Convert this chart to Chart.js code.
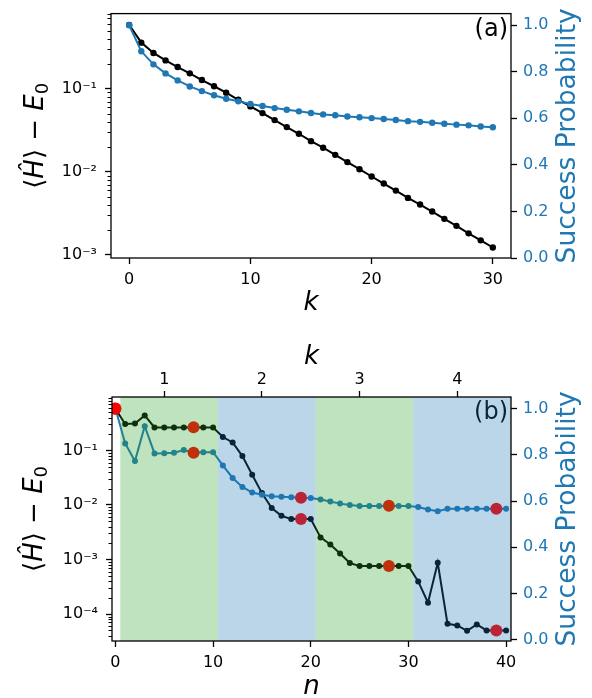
<!DOCTYPE html>
<html><head><meta charset="utf-8">
<script src="https://cdn.jsdelivr.net/npm/chart.js@4"></script>
<style>
html,body{margin:0;padding:0;background:#fff;}
#wrap{position:relative;width:592px;height:698px;overflow:hidden;}
canvas{position:absolute;left:0;}
</style></head><body>
<div id="wrap">
<canvas id="ca" width="592" height="334" style="top:-4px"></canvas>
<canvas id="cb" width="592" height="368" style="top:330px"></canvas>
</div>
<script>
// ---------- DATA ----------
const kSteps = [0,1,2,3,4,5,6,7,8,9,10,11,12,13,14,15,16,17,18,19,20,21,22,23,24,25,26,27,28,29,30];
const energyA = [0.585,0.358,0.269,0.219,0.182,0.153,0.127,0.107,0.0895,0.0736,0.0612,0.0509,0.0419,0.0345,0.0287,0.0234,0.0195,0.0160,0.0131,0.01076,0.00879,0.00723,0.00595,0.00486,0.00404,0.00333,0.00272,0.00224,0.00182,0.00150,0.00123];
const successA = [1.0,0.888,0.832,0.793,0.763,0.737,0.717,0.699,0.684,0.673,0.662,0.653,0.644,0.637,0.630,0.623,0.617,0.613,0.608,0.605,0.601,0.597,0.593,0.588,0.585,0.581,0.577,0.573,0.570,0.565,0.562];

const nSteps = [0,1,2,3,4,5,6,7,8,9,10,11,12,13,14,15,16,17,18,19,20,21,22,23,24,25,26,27,28,29,30,31,32,33,34,35,36,37,38,39,40];
const energyB = [0.582,0.305,0.313,0.439,0.264,0.264,0.264,0.264,0.266,0.264,0.264,0.176,0.140,0.0788,0.0358,0.0165,0.00877,0.00634,0.00551,0.00551,0.00551,0.00254,0.00189,0.00129,0.000860,0.000757,0.000757,0.000757,0.000757,0.000757,0.000757,0.000396,0.000161,0.000872,0.0000662,0.0000617,0.0000493,0.0000644,0.0000501,0.0000501,0.0000501];
const successB = [1.0,0.849,0.773,0.924,0.806,0.807,0.809,0.821,0.809,0.811,0.811,0.754,0.700,0.661,0.637,0.627,0.621,0.619,0.617,0.614,0.613,0.607,0.598,0.589,0.583,0.579,0.579,0.579,0.580,0.579,0.579,0.574,0.564,0.556,0.567,0.567,0.567,0.567,0.567,0.567,0.567];
const markedN = [0,8,19,28,39];

const xTicksA = [0,10,20,30];
const xTicksB = [0,10,20,30,40];
const kTickPos = [5,15,25,35];
const kTickLabels = ['1','2','3','4'];
const logTicksA = [0.1,0.01,0.001];
const logTicksB = [0.1,0.01,0.001,0.0001];
const probTicks = [0,0.2,0.4,0.6,0.8,1.0];
const shadeEdges = [0.5,10.5,20.5,30.5,40.5];
const shadeKinds = ['green','blue','green','blue'];

// ---------- STYLE ----------
const FONT = '"DejaVu Sans", "Liberation Sans", sans-serif';
const BLUE = '#1f77b4';
const SHADE = {green:'rgba(44,160,44,0.3)', blue:'rgba(31,119,180,0.3)'};
const SUP = {'0':'⁰','1':'¹','2':'²','3':'³','4':'⁴','5':'⁵','6':'⁶','7':'⁷','8':'⁸','9':'⁹','-':'⁻'};
function logLabel(v){
  const e = Math.round(Math.log10(v));
  return '10' + String(e).split('').map(c=>SUP[c]).join('');
}
function setTicks(list){ return s => { s.ticks = list.filter(v=>v>=s.min-1e-12 && v<=s.max+1e-12).map(v=>({value:v})); }; }
function fixW(w){ return s => { s.width = w; }; }
function fixH(h){ return s => { s.height = h; }; }

function tickFont(){ return {family:FONT, size:16}; }
function gridOpts(color){ return {display:true, drawOnChartArea:false, drawTicks:true, tickLength:6, tickWidth:1.3, tickColor:color||'#000'}; }

function drawLeftTitle(ctx, cx, cy){
  const S = 26;
  const pieces = [
    {t:'⟨', f:`${S}px ${FONT}`, dy:0},
    {t:'Ĥ', f:`italic ${S}px ${FONT}`, dy:0},
    {t:'⟩', f:`${S}px ${FONT}`, dy:0},
    {t:' − ', f:`${S}px ${FONT}`, dy:0},
    {t:'E', f:`italic ${S}px ${FONT}`, dy:0},
    {t:'0', f:`${Math.round(S*0.7)}px ${FONT}`, dy:5}
  ];
  ctx.save();
  ctx.translate(cx, cy);
  ctx.rotate(-Math.PI/2);
  ctx.fillStyle = '#000';
  ctx.textBaseline = 'alphabetic';
  ctx.textAlign = 'left';
  let total = 0;
  pieces.forEach(p=>{ ctx.font = p.f; p.w = ctx.measureText(p.t).width; total += p.w; });
  let x = -total/2;
  pieces.forEach(p=>{ ctx.font = p.f; ctx.fillText(p.t, x, 9 + p.dy); x += p.w; });
  ctx.restore();
}
function drawRotText(ctx, text, cx, cy, font, color){
  ctx.save();
  ctx.translate(cx, cy);
  ctx.rotate(-Math.PI/2);
  ctx.font = font; ctx.fillStyle = color;
  ctx.textAlign = 'center'; ctx.textBaseline = 'middle';
  ctx.fillText(text, 0, 0);
  ctx.restore();
}
function drawText(ctx, text, x, y, font, color, align){
  ctx.save();
  ctx.font = font; ctx.fillStyle = color;
  ctx.textAlign = align||'center'; ctx.textBaseline = 'middle';
  ctx.fillText(text, x, y);
  ctx.restore();
}
function drawMinorLog(ctx, chart){
  const s = chart.scales.y; const a = chart.chartArea;
  ctx.save(); ctx.strokeStyle = '#000'; ctx.lineWidth = 1;
  for (let e = -6; e <= 1; e++){
    for (let m = 2; m <= 9; m++){
      const v = m*Math.pow(10,e);
      if (v < s.min || v > s.max) continue;
      const y = Math.round(s.getPixelForValue(v)) + 0.5;
      ctx.beginPath(); ctx.moveTo(a.left, y); ctx.lineTo(a.left-3.5, y); ctx.stroke();
    }
  }
  ctx.restore();
}
function drawFrame(ctx, chart){
  const a = chart.chartArea;
  ctx.save(); ctx.strokeStyle = '#000'; ctx.lineWidth = 1.3;
  ctx.strokeRect(a.left, a.top, a.right-a.left, a.bottom-a.top);
  ctx.restore();
}

// ---------- CHART (a) ----------
const decorA = {
  id:'decorA',
  afterDraw(chart){
    const ctx = chart.ctx, a = chart.chartArea;
    drawMinorLog(ctx, chart);
    drawFrame(ctx, chart);
    const cy = (a.top+a.bottom)/2;
    drawLeftTitle(ctx, 34, cy);
    drawRotText(ctx, 'Success Probability', 568, cy, `26.5px ${FONT}`, BLUE);
    drawText(ctx, 'k', (a.left+a.right)/2, 307, `italic 26px ${FONT}`, '#000');
    drawText(ctx, '(a)', a.right-3, a.top+16, `24px ${FONT}`, '#000', 'right');
  }
};

new Chart(document.getElementById('ca'), {
  type:'line',
  data:{ datasets:[
    { label:'Success', data:kSteps.map((k,i)=>({x:k,y:successA[i]})), yAxisID:'y2', xAxisID:'x',
      borderColor:BLUE, backgroundColor:BLUE, pointBackgroundColor:BLUE, pointBorderColor:BLUE,
      borderWidth:2, pointRadius:3.2, pointBorderWidth:0, order:0 },
    { label:'Energy', data:kSteps.map((k,i)=>({x:k,y:energyA[i]})), yAxisID:'y', xAxisID:'x',
      borderColor:'#000', backgroundColor:'#000', pointBackgroundColor:'#000', pointBorderColor:'#000',
      borderWidth:2, pointRadius:3.2, pointBorderWidth:0, order:1 }
  ]},
  options:{
    responsive:false, animation:false, devicePixelRatio:1,
    layout:{padding:{top:11,left:0,right:0,bottom:0}},
    plugins:{legend:{display:false}, tooltip:{enabled:false}},
    elements:{line:{tension:0}},
    scales:{
      x:{type:'linear', position:'bottom', min:-1.5, max:31.5,
         afterBuildTicks:setTicks(xTicksA), afterFit:fixH(72),
         grid:gridOpts(), border:{display:false},
         ticks:{font:tickFont(), color:'#000', padding:6, maxRotation:0, autoSkip:false, callback:v=>String(v)}},
      y:{type:'logarithmic', position:'left', min:0.00092, max:0.8,
         afterBuildTicks:setTicks(logTicksA), afterFit:fixW(111),
         grid:gridOpts(), border:{display:false},
         ticks:{font:tickFont(), color:'#000', padding:8, autoSkip:false, callback:v=>logLabel(v)}},
      y2:{type:'linear', position:'right', min:0, max:1.05,
         afterBuildTicks:setTicks(probTicks), afterFit:fixW(81),
         grid:gridOpts(), border:{display:false},
         ticks:{font:tickFont(), color:BLUE, padding:6, autoSkip:false, callback:v=>Number(v).toFixed(1)}}
    }
  },
  plugins:[decorA]
});

// ---------- CHART (b) ----------
const decorB = {
  id:'decorB',
  beforeDatasetsDraw(chart){
    const ctx = chart.ctx, a = chart.chartArea;
    drawText(ctx, '(b)', a.right-3, a.top+16, `24px ${FONT}`, '#000', 'right');
  },
  afterDatasetsDraw(chart){
    const ctx = chart.ctx, a = chart.chartArea, x = chart.scales.x;
    ctx.save();
    ctx.beginPath(); ctx.rect(a.left, a.top, a.right-a.left, a.bottom-a.top); ctx.clip();
    for (let i = 0; i < shadeKinds.length; i++){
      const x0 = x.getPixelForValue(shadeEdges[i]);
      const x1 = x.getPixelForValue(shadeEdges[i+1]);
      ctx.fillStyle = SHADE[shadeKinds[i]];
      ctx.fillRect(x0, a.top, x1-x0, a.bottom-a.top);
    }
    ctx.restore();
  },
  afterDraw(chart){
    const ctx = chart.ctx, a = chart.chartArea;
    drawMinorLog(ctx, chart);
    drawFrame(ctx, chart);
    const cy = (a.top+a.bottom)/2;
    drawLeftTitle(ctx, 33, cy);
    drawRotText(ctx, 'Success Probability', 568, cy, `26.5px ${FONT}`, BLUE);
    drawText(ctx, 'n', (a.left+a.right)/2, 357, `italic 26px ${FONT}`, '#000');
    drawText(ctx, 'k', (a.left+a.right)/2, 27, `italic 26px ${FONT}`, '#000');
  }
};

new Chart(document.getElementById('cb'), {
  type:'line',
  data:{ datasets:[
    { label:'MarkE', data:markedN.map(n=>({x:n,y:energyB[n]})), yAxisID:'y', xAxisID:'x',
      showLine:false, pointRadius:6, pointBorderWidth:0, pointBackgroundColor:'#ff0000', borderColor:'#ff0000', order:0 },
    { label:'MarkP', data:markedN.map(n=>({x:n,y:successB[n]})), yAxisID:'y2', xAxisID:'x',
      showLine:false, pointRadius:6, pointBorderWidth:0, pointBackgroundColor:'#ff0000', borderColor:'#ff0000', order:0 },
    { label:'Success', data:nSteps.map((n,i)=>({x:n,y:successB[i]})), yAxisID:'y2', xAxisID:'x',
      borderColor:BLUE, backgroundColor:BLUE, pointBackgroundColor:BLUE, pointBorderColor:BLUE,
      borderWidth:2, pointRadius:3, pointBorderWidth:0, order:1 },
    { label:'Energy', data:nSteps.map((n,i)=>({x:n,y:energyB[i]})), yAxisID:'y', xAxisID:'x',
      borderColor:'#000', backgroundColor:'#000', pointBackgroundColor:'#000', pointBorderColor:'#000',
      borderWidth:2, pointRadius:3, pointBorderWidth:0, order:2 }
  ]},
  options:{
    responsive:false, animation:false, devicePixelRatio:1,
    layout:{padding:{top:0,left:0,right:0,bottom:0}},
    plugins:{legend:{display:false}, tooltip:{enabled:false}},
    elements:{line:{tension:0}},
    scales:{
      x:{type:'linear', position:'bottom', min:-0.35, max:40.5,
         afterBuildTicks:setTicks(xTicksB), afterFit:fixH(57),
         grid:gridOpts(), border:{display:false},
         ticks:{font:tickFont(), color:'#000', padding:6, maxRotation:0, autoSkip:false, callback:v=>String(v)}},
      xk:{type:'linear', position:'top', min:-0.35, max:40.5,
         afterBuildTicks:setTicks(kTickPos), afterFit:fixH(67),
         grid:gridOpts(), border:{display:false},
         ticks:{font:tickFont(), color:'#000', padding:2, maxRotation:0, autoSkip:false,
                callback:v=>kTickLabels[kTickPos.indexOf(v)]}},
      y:{type:'logarithmic', position:'left', min:0.000032, max:0.955,
         afterBuildTicks:setTicks(logTicksB), afterFit:fixW(112),
         grid:gridOpts(), border:{display:false},
         ticks:{font:tickFont(), color:'#000', padding:8, autoSkip:false, callback:v=>logLabel(v)}},
      y2:{type:'linear', position:'right', min:-0.005, max:1.05,
         afterBuildTicks:setTicks(probTicks), afterFit:fixW(81),
         grid:gridOpts(), border:{display:false},
         ticks:{font:tickFont(), color:BLUE, padding:6, autoSkip:false, callback:v=>Number(v).toFixed(1)}}
    }
  },
  plugins:[decorB]
});
</script>
</body></html>
